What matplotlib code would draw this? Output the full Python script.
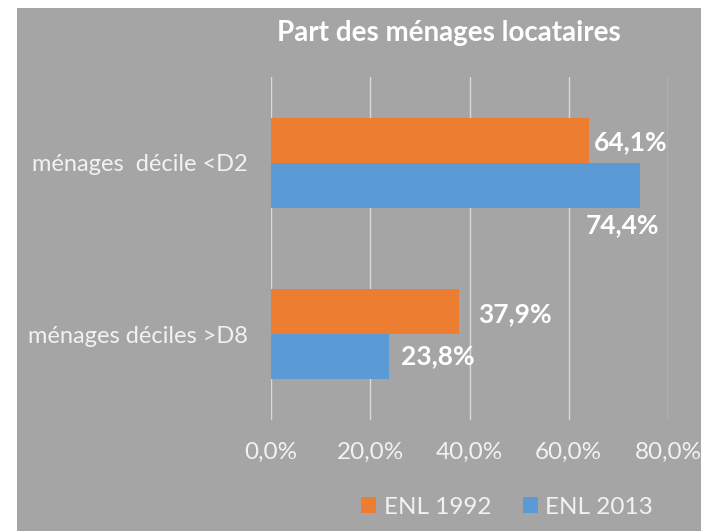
import matplotlib
matplotlib.use("Agg")
import matplotlib.pyplot as plt
from matplotlib.patches import Patch, Rectangle

# ---- data ----
categories = ["ménages déciles >D8", "ménages  décile <D2"]   # bottom -> top
series_names = ["ENL 1992", "ENL 2013"]
enl_1992 = [37.9, 64.1]
enl_2013 = [23.8, 74.4]
x_ticks = [0, 20, 40, 60, 80]
x_tick_labels = ["0,0%", "20,0%", "40,0%", "60,0%", "80,0%"]
title = "Part des ménages locataires"

# ---- style ----
BG = "#A5A5A5"
ORANGE = "#ED7D31"
BLUE = "#5B9BD5"
GRID = "#D9D9D9"
TXT = "#F2F2F2"
FONT = ["Lato", "DejaVu Sans"]
plt.rcParams["font.family"] = FONT

W, H = 701, 531
fig = plt.figure(figsize=(W / 100, H / 100), dpi=100)
fig.patch.set_facecolor("white")
# gray chart area (white strip on left and top as in the screenshot)
fig.patches.append(Rectangle((17 / W, 0), 1 - 17 / W, 1 - 8 / H,
                             transform=fig.transFigure, facecolor=BG,
                             edgecolor="none", zorder=-5))

ax_left, ax_right, ax_top, ax_bottom = 271, 668, 77, 420
ax = fig.add_axes([ax_left / W, 1 - ax_bottom / H,
                   (ax_right - ax_left) / W, (ax_bottom - ax_top) / H])
ax.set_facecolor("none")
ax.set_zorder(2)

bar_h = 0.262
ypos = list(range(len(categories)))
b1 = ax.barh([y + bar_h / 2 for y in ypos], enl_1992, height=bar_h,
             color=ORANGE, zorder=3)
b2 = ax.barh([y - bar_h / 2 for y in ypos], enl_2013, height=bar_h,
             color=BLUE, zorder=3)

ax.set_xlim(0, 80)
ax.set_ylim(-0.5, 1.5)
ax.set_xticks(x_ticks)
ax.set_xticklabels(x_tick_labels)
ax.set_yticks(ypos)
ax.set_yticklabels(categories)
ax.grid(axis="x", color=GRID, linewidth=1.0, zorder=1)
ax.grid(axis="y", visible=False)
for s in ax.spines.values():
    s.set_visible(False)
ax.tick_params(axis="x", length=0, pad=16, labelsize=17.5, labelcolor=TXT)
ax.tick_params(axis="y", length=0, pad=17, labelsize=17, labelcolor=TXT)


def fmt(v):
    return f"{v:.1f}%".replace(".", ",")


# data labels (pixel offsets from bar end / centre, as placed in the source)
offs_1992 = [(19, -2), (5, -2)]
offs_2013 = [(12, 1), (-54, -40)]
for bars, vals, offs in ((b1, enl_1992, offs_1992), (b2, enl_2013, offs_2013)):
    for rect, v, (dx, dy) in zip(bars, vals, offs):
        yc = rect.get_y() + rect.get_height() / 2
        ax.annotate(fmt(v), xy=(v, yc), xytext=(dx, dy),
                    textcoords="offset pixels", ha="left", va="center",
                    fontsize=19, fontweight="bold", color="white", zorder=5)

fig.text(449 / W, 1 - 33 / H, title, ha="center", va="center",
         fontsize=20, fontweight="bold", color="white")

handles = [Patch(facecolor=ORANGE, edgecolor="none"),
           Patch(facecolor=BLUE, edgecolor="none")]
leg = fig.legend(handles, series_names, loc="center",
                 bbox_to_anchor=(507 / W, 1 - 507 / H), ncol=2, frameon=False,
                 fontsize=17.5, handlelength=0.62, handleheight=0.62,
                 handletextpad=0.3, columnspacing=1.3)
for t in leg.get_texts():
    t.set_color(TXT)

fig.savefig("out.png", dpi=100, facecolor=fig.get_facecolor())
